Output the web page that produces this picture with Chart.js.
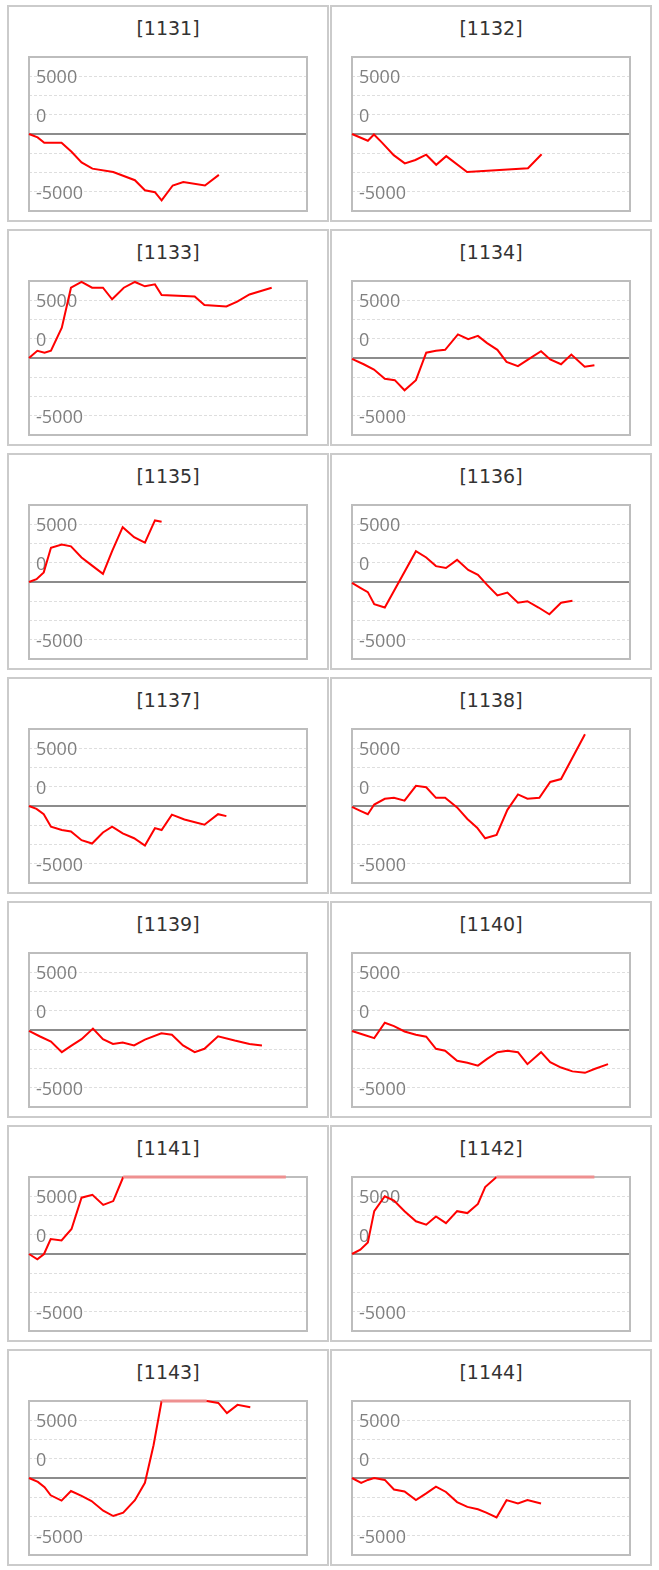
<!DOCTYPE html>
<html>
<head>
<meta charset="utf-8">
<title>Profit curves 1131-1144</title>
<script src="https://cdn.jsdelivr.net/npm/chart.js@4.4.0/dist/chart.umd.min.js"></script>
<style>
    body { margin: 0; background: #ffffff; }
    #board { position: relative; width: 659px; height: 1570px; }
    .panel { position: absolute; width: 318px; height: 213px; border: 2px solid #cbcbcb; background: #ffffff; }
    .panel h3 { margin: 0; height: 42px; line-height: 42px; text-align: center; font-family: "DejaVu Sans", sans-serif; font-weight: normal; font-size: 19px; color: #333333; }
    .box { position: relative; width: 318px; height: 171px; }
</style>
</head>
<body>
<div id="board"></div>
<script>
// codes shown in the panel titles
var codes = ["1131", "1132", "1133", "1134", "1135", "1136", "1137",
             "1138", "1139", "1140", "1141", "1142", "1143", "1144"];

// x = position along the period (0-100), y = cumulative result
var x1131 = [0, 3.1, 5.5, 11.7, 15.3, 18.9, 22.8, 30.3, 38.1, 41.7, 45.3, 47.7, 51.7, 55.5, 63.3, 68.3];
var y1131 = [0, -350, -900, -900, -1850, -2950, -3600, -3950, -4800, -5850, -6050, -6900, -5350, -5000, -5350, -4250];

var x1132 = [0, 5.7, 7.9, 10.8, 15.0, 19.0, 22.8, 26.7, 30.3, 33.9, 41.4, 63.3, 68.2];
var y1132 = [0, -700, -50, -900, -2200, -3050, -2700, -2150, -3200, -2300, -3950, -3550, -2100];

var x1133 = [0, 3.0, 5.6, 7.9, 11.8, 15.1, 18.9, 22.7, 26.6, 29.9, 34.1, 38.1, 41.7, 45.3, 47.7, 59.6, 63.1, 71.0, 74.9, 79.3, 87.3];
var y1133 = [0, 750, 550, 750, 3150, 7300, 7900, 7300, 7300, 6100, 7300, 7900, 7450, 7650, 6550, 6400, 5500, 5350, 5850, 6600, 7300];

var x1134 = [0, 4.2, 7.9, 11.8, 15.4, 18.9, 23.0, 26.7, 30.2, 33.5, 38.1, 41.8, 45.3, 48.6, 52.3, 55.6, 59.7, 63.7, 68.0, 71.3, 75.2, 78.9, 83.7, 87.2];
var y1134 = [-100, -650, -1200, -2150, -2300, -3350, -2300, 550, 750, 850, 2450, 1950, 2300, 1550, 850, -400, -850, -100, 700, -150, -650, 350, -900, -750];

var x1135 = [0, 2.7, 5.3, 7.9, 11.8, 15.1, 18.9, 22.7, 26.6, 29.9, 33.7, 37.8, 41.7, 45.3, 47.7];
var y1135 = [0, 300, 1000, 3550, 3900, 3700, 2550, 1700, 850, 3200, 5700, 4650, 4100, 6400, 6250];

var x1136 = [0, 3.0, 5.7, 8.0, 11.8, 23.0, 26.7, 30.2, 33.8, 37.8, 41.8, 45.3, 48.6, 52.3, 55.9, 59.7, 63.1, 67.1, 71.0, 75.2, 79.3];
var y1136 = [-100, -600, -1050, -2300, -2650, 3200, 2550, 1650, 1450, 2300, 1250, 750, -300, -1400, -1100, -2150, -2000, -2650, -3350, -2150, -1950];

var x1137 = [0, 2.7, 5.3, 7.9, 11.8, 15.1, 18.9, 22.7, 26.6, 29.9, 33.7, 37.8, 41.7, 45.3, 47.7, 51.4, 55.9, 63.1, 68.0, 71.0];
var y1137 = [0, -300, -850, -2150, -2500, -2650, -3550, -3900, -2750, -2150, -2850, -3350, -4100, -2300, -2500, -900, -1400, -1950, -850, -1050];

var x1138 = [0, 3.0, 5.7, 8.0, 11.8, 15.1, 18.9, 23.0, 26.7, 30.2, 33.5, 37.8, 41.5, 45.0, 47.9, 52.0, 55.9, 59.7, 63.1, 67.4, 71.3, 75.2, 83.8];
var y1138 = [-100, -500, -850, 150, 750, 850, 550, 2100, 1950, 850, 850, -150, -1350, -2250, -3350, -3000, -400, 1200, 750, 850, 2500, 2800, 7450];

var x1139 = [0, 3.8, 7.9, 11.8, 15.4, 18.9, 23.0, 26.6, 30.2, 33.7, 37.8, 41.7, 47.6, 51.4, 55.4, 59.6, 63.1, 68.0, 74.0, 79.3, 83.8];
var y1139 = [-100, -650, -1200, -2300, -1600, -950, 150, -950, -1450, -1300, -1600, -1000, -350, -500, -1600, -2300, -1950, -650, -1100, -1450, -1600];

var x1140 = [0, 4.2, 8.0, 11.8, 15.1, 18.9, 23.0, 26.7, 30.2, 33.5, 37.8, 41.5, 45.3, 48.6, 52.3, 55.9, 59.7, 63.1, 68.0, 71.3, 75.2, 79.3, 83.8, 87.2, 92.1];
var y1140 = [-100, -500, -850, 750, 400, -150, -500, -700, -1950, -2150, -3200, -3400, -3700, -3000, -2300, -2150, -2300, -3550, -2300, -3350, -3900, -4300, -4450, -4050, -3550];

var x1141 = [0, 3.0, 5.4, 7.8, 11.7, 15.3, 18.9, 22.8, 26.7, 30.3, 33.9, 92.4];
var y1141 = [0, -550, 0, 1550, 1400, 2600, 5850, 6150, 5100, 5500, 8000, 8000];

var x1142 = [0, 3.0, 5.7, 8.0, 11.8, 15.1, 18.9, 23.0, 26.7, 30.2, 33.8, 37.8, 41.5, 45.3, 47.9, 52.0, 87.2];
var y1142 = [0, 450, 1200, 4450, 6000, 5550, 4450, 3400, 3050, 3900, 3200, 4450, 4250, 5200, 6950, 8000, 8000];

var x1143 = [0, 3.2, 5.6, 7.8, 11.7, 15.1, 18.9, 22.5, 26.7, 30.3, 33.9, 38.1, 41.7, 44.8, 47.7, 63.9, 68.1, 71.2, 75.0, 79.6];
var y1143 = [0, -400, -950, -1800, -2350, -1350, -1850, -2400, -3400, -3950, -3600, -2300, -500, 3400, 8000, 8000, 7800, 6750, 7600, 7350];

var x1144 = [0, 3.3, 5.7, 8.0, 11.8, 15.1, 18.9, 23.0, 26.7, 30.2, 33.8, 37.8, 41.5, 45.3, 48.3, 52.0, 55.6, 59.7, 63.1, 68.0];
var y1144 = [0, -500, -200, 0, -200, -1200, -1400, -2300, -1600, -900, -1450, -2500, -3000, -3250, -3600, -4100, -2300, -2650, -2300, -2650];

// y axis: range, grid step and the three printed labels
var yMin = -8000;
var yMax = 8000;
var yStep = 2000;
var yLabelAt = [6000, 2000, -6000];
var yLabelText = ["5000", "0", "-5000"];

var series = [
    [x1131, y1131], [x1132, y1132], [x1133, y1133], [x1134, y1134],
    [x1135, y1135], [x1136, y1136], [x1137, y1137], [x1138, y1138],
    [x1139, y1139], [x1140, y1140], [x1141, y1141], [x1142, y1142],
    [x1143, y1143], [x1144, y1144]
];

// grey frame around the plot area, drawn under the line
var frame = {
    id: "frame",
    beforeDatasetsDraw: function(chart) {
        var a = chart.chartArea;
        var ctx = chart.ctx;
        ctx.save();
        ctx.strokeStyle = "#bdbdbd";
        ctx.lineWidth = 2;
        ctx.strokeRect(a.left, a.top, a.right - a.left, a.bottom - a.top);
        ctx.restore();
    }
};

// segment at the ceiling on both ends -> pale red
function atCeiling(ctx) {
    return ctx.p0.parsed.y >= yMax && ctx.p1.parsed.y >= yMax;
}

var board = document.getElementById("board");

codes.forEach(function(code, i) {
    var panel = document.createElement("div");
    panel.className = "panel";
    panel.style.left = (i % 2 ? 330 : 7) + "px";
    panel.style.top = (5 + Math.floor(i / 2) * 224) + "px";

    var title = document.createElement("h3");
    title.textContent = "[" + code + "]";
    panel.appendChild(title);

    var box = document.createElement("div");
    box.className = "box";
    var canvas = document.createElement("canvas");
    box.appendChild(canvas);
    panel.appendChild(box);
    board.appendChild(panel);

    var xs = series[i][0];
    var ys = series[i][1];
    var points = xs.map(function(x, k) { return { x: x, y: ys[k] }; });

    new Chart(canvas, {
        type: "line",
        data: {
            datasets: [{
                data: points,
                borderColor: "#ff0000",
                borderWidth: 2,
                pointRadius: 0,
                tension: 0,
                fill: false,
                clip: 3,
                segment: {
                    borderColor: function(ctx) { return atCeiling(ctx) ? "#ee9090" : undefined; },
                    borderWidth: function(ctx) { return atCeiling(ctx) ? 3 : undefined; }
                }
            }]
        },
        options: {
            animation: false,
            responsive: true,
            maintainAspectRatio: false,
            layout: { padding: { left: 20, right: 20, top: 8, bottom: 9 } },
            plugins: {
                legend: { display: false },
                tooltip: { enabled: false }
            },
            scales: {
                x: { type: "linear", min: 0, max: 100, display: false },
                y: {
                    min: yMin,
                    max: yMax,
                    // labels sit inside the plot, so the axis takes no room
                    afterFit: function(scale) {
                        scale.width = 0;
                        scale.paddingTop = 0;
                        scale.paddingBottom = 0;
                    },
                    ticks: {
                        stepSize: yStep,
                        autoSkip: false,
                        mirror: true,
                        padding: 7,
                        labelOffset: 2,
                        color: "#808080",
                        font: { family: "Open Sans", size: 18 },
                        callback: function(v) {
                            var k = yLabelAt.indexOf(v);
                            return k < 0 ? "" : yLabelText[k];
                        }
                    },
                    grid: {
                        drawTicks: false,
                        color: function(c) {
                            if (c.tick.value === 0) return "#8c8c8c";
                            if (Math.abs(c.tick.value) >= yMax) return "rgba(0,0,0,0)";
                            return "#dedede";
                        },
                        lineWidth: function(c) { return c.tick.value === 0 ? 2 : 1; }
                    },
                    border: {
                        display: false,
                        dash: function(c) { return c.tick && c.tick.value === 0 ? [] : [3, 2]; }
                    }
                }
            }
        },
        plugins: [frame]
    });
});
</script>
</body>
</html>
